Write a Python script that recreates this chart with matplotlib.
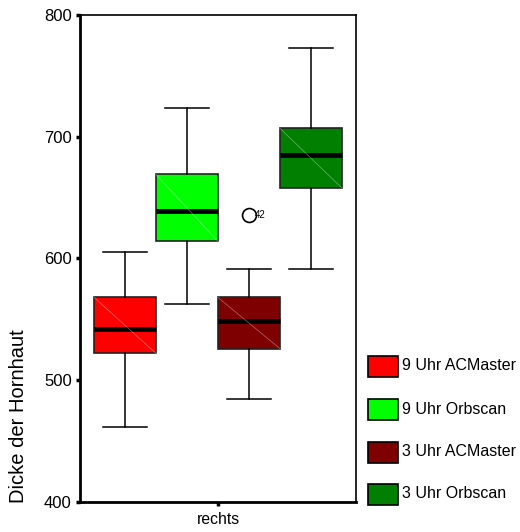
import matplotlib
matplotlib.use("Agg")
import matplotlib.pyplot as plt
from matplotlib.patches import Rectangle

plt.rcParams['font.family'] = ['Liberation Sans', 'DejaVu Sans']

# Box plot summaries: Hornhautdicke per measurement position and device
groups = ["9 Uhr ACMaster", "9 Uhr Orbscan", "3 Uhr ACMaster", "3 Uhr Orbscan"]
colors = ["#ff0000", "#00ff00", "#7f0000", "#007f00"]
whislo = [462, 563, 485, 591]
q1 = [522, 614, 526, 658]
med = [542, 639, 549, 685]
q3 = [568, 669, 568, 707]
whishi = [605, 724, 591, 773]
fliers = [[], [], [636], []]
flier_labels = [[], [], ["42"], []]

positions = [-1.5, -0.5, 0.5, 1.5]
category = "rechts"
yticks = [400, 500, 600, 700, 800]
ylabel = "Dicke der Hornhaut"

fig = plt.figure(figsize=(5.2, 5.32), dpi=100)
ax = fig.add_axes([0.1538, 0.0564, 0.5308, 0.9154])

stats = []
for i in range(len(groups)):
    stats.append(dict(whislo=whislo[i], q1=q1[i], med=med[i], q3=q3[i],
                      whishi=whishi[i], fliers=[], label=groups[i]))

bp = ax.bxp(stats, positions=positions, widths=1.0, patch_artist=True,
            showfliers=False,
            boxprops=dict(linewidth=1.2, edgecolor="#222222"),
            medianprops=dict(color="black", linewidth=3.5),
            whiskerprops=dict(color="black", linewidth=1.1),
            capprops=dict(color="black", linewidth=1.1),
            capwidths=0.72)
for patch, c in zip(bp['boxes'], colors):
    patch.set_facecolor(c)

# faint diagonal shading line across each box
for p, lo, hi in zip(positions, q1, q3):
    ax.plot([p - 0.5, p + 0.5], [hi, lo], color="white", alpha=0.35,
            linewidth=0.6, zorder=2.5)

# outliers with case numbers
for p, vals, labs in zip(positions, fliers, flier_labels):
    for v, lab in zip(vals, labs):
        ax.plot(p, v, marker="o", markersize=10, markerfacecolor="none",
                markeredgecolor="black", markeredgewidth=1.2, zorder=4)
        ax.text(p + 0.1, v, lab, fontsize=7, va="center", ha="left")

ax.set_xlim(-2.23, 2.23)
ax.set_ylim(400, 800)
ax.set_yticks(yticks)
ax.set_xticks([0])
ax.set_xticklabels([category], fontsize=11.3)
ax.tick_params(axis="y", labelsize=12, length=3, width=2.5, direction="out", pad=3)
ax.tick_params(axis="x", length=3, width=2.5, direction="out", pad=4)
ax.set_ylabel(ylabel, fontsize=14.5)
ax.yaxis.set_label_coords(-0.19, 0.177)
for s in ["left", "bottom"]:
    ax.spines[s].set_linewidth(2)
for s in ["top", "right"]:
    ax.spines[s].set_linewidth(1.2)

# legend entries drawn as figure-level swatches
W, H = 520, 532
row_y = [366, 409, 452, 494]
for g, c, yy in zip(groups, colors, row_y):
    x0, w, h = 368, 30, 21
    r = Rectangle((x0 / W, (H - yy - h / 2) / H), w / W, h / H,
                  transform=fig.transFigure, facecolor=c, edgecolor="black",
                  linewidth=1.2)
    fig.patches.append(r)
    fig.text(402 / W, (H - yy) / H, g, fontsize=11.5, va="center", ha="left")

fig.savefig("out.png", dpi=100)
